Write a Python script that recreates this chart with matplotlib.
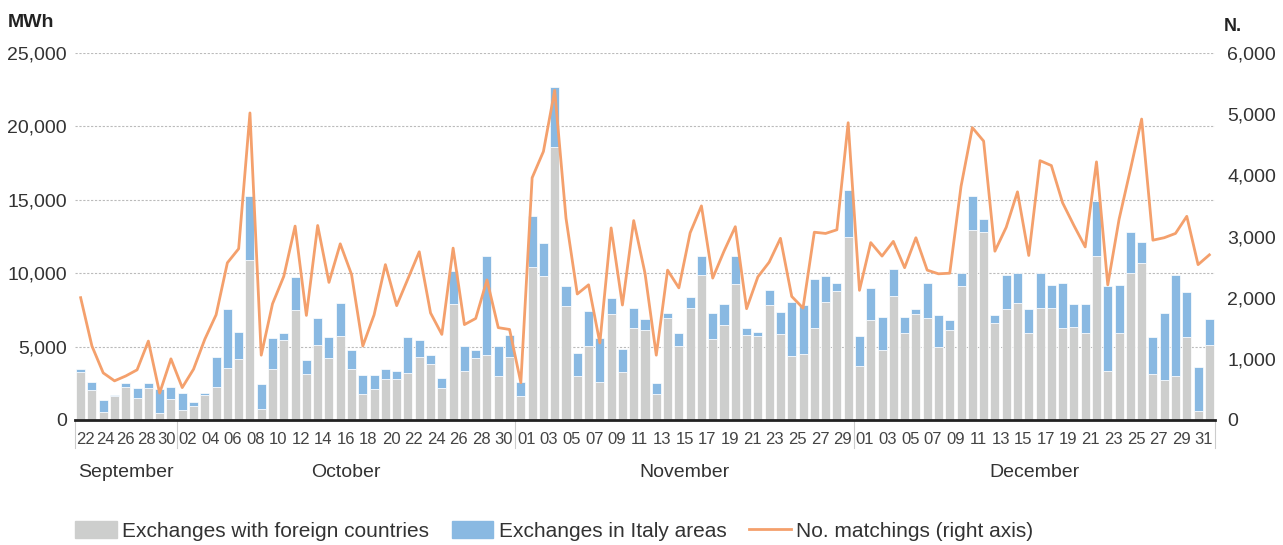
import matplotlib
matplotlib.use("Agg")
import matplotlib.pyplot as plt
import numpy as np
from matplotlib.ticker import FuncFormatter
from matplotlib.patches import Patch
from matplotlib.lines import Line2D

plt.rcParams['font.family'] = ['Liberation Sans', 'DejaVu Sans']

# daily volumes, 22 Sep - 31 Dec (MWh)
foreign = [3270, 2020, 540, 1610, 2250, 1470, 2160, 450, 1410,
           660, 950, 1680, 2250, 3520, 4130, 10890, 730, 3490, 5420,
           7460, 3110, 5080, 4200, 5720, 3450, 1750, 2090, 2770, 2770,
           3180, 4290, 3790, 2180, 7870, 3330, 4200, 4400, 2990, 4310,
           1630, 10410, 9840, 18580, 7760, 2990, 5040, 2590, 7240, 3270,
           6240, 6100, 1790, 6960, 5040, 7600, 9870, 5490, 6440, 9280,
           5760, 5690, 7830, 5830, 4360, 4470, 6240, 8030, 8820, 12470,
           3670, 6800, 4740, 8440, 5940, 7190, 6920, 4970, 6100, 9120,
           12970, 12810, 6620, 7580, 7980, 5940, 7620, 7620, 6280, 6330,
           5940, 11200, 3330, 5900, 9980, 10710, 3110, 2700, 2990, 5650,
           590, 5080]
italy = [180, 540, 820, 90, 290, 690, 340, 1680, 860,
         1150, 300, 180, 2010, 4010, 1880, 4370, 1740, 2110, 520,
         2290, 970, 1880, 1450, 2260, 1290, 1290, 970, 720, 540,
         2490, 1150, 610, 700, 2270, 1710, 540, 6780, 2050, 1500,
         980, 3470, 2200, 4100, 1360, 1590, 2380, 3010, 1080, 1580,
         1400, 750, 750, 340, 900, 750, 1330, 1770, 1450, 1860,
         520, 300, 1040, 1540, 3670, 3330, 3380, 1810, 500, 3230,
         2050, 2180, 2250, 1860, 1070, 340, 2380, 2150, 680, 910,
         2320, 910, 520, 2290, 2050, 1640, 2380, 1590, 3060, 1590,
         1980, 3750, 5790, 3310, 2860, 1420, 2540, 4600, 6900, 3060,
         3040, 1820]
# number of matchings (right axis)
matchings = [2000, 1210, 770, 640, 720, 820, 1290, 440, 1000,
             530, 830, 1320, 1720, 2570, 2800, 5020, 1060, 1900, 2350,
             3170, 1710, 3180, 2250, 2880, 2380, 1210, 1720, 2540, 1870,
             2310, 2750, 1750, 1400, 2810, 1560, 1660, 2290, 1510, 1480,
             610, 3960, 4390, 5390, 3300, 2060, 2210, 1260, 3140, 1880,
             3260, 2400, 1060, 2450, 2160, 3060, 3500, 2320, 2760, 3160,
             1820, 2340, 2580, 2970, 2020, 1830, 3070, 3050, 3110, 4860,
             2120, 2900, 2680, 2920, 2490, 2980, 2450, 2390, 2400, 3820,
             4780, 4560, 2760, 3150, 3730, 2690, 4240, 4160, 3550, 3180,
             2830, 4220, 2210, 3280, 4090, 4920, 2940, 2980, 3050, 3330,
             2540, 2700]

months = ['September', 'October', 'November', 'December']
month_bars = [9, 30, 30, 32]
day_labels = [
    ['22', '24', '26', '28', '30'],
    ['02', '04', '06', '08', '10', '12', '14', '16', '18', '20', '22', '24', '26', '28', '30'],
    ['01', '03', '05', '07', '09', '11', '13', '15', '17', '19', '21', '23', '25', '27', '29'],
    ['01', '03', '05', '07', '09', '11', '13', '15', '17', '19', '21', '23', '25', '27', '29', '31'],
]

GREY = '#cdcecd'
BLUE = '#89b9e2'
ORANGE = '#f4a06c'
TXT = '#333333'

x = np.arange(len(foreign))

fig = plt.figure(figsize=(12.83, 5.45), dpi=100)
ax = fig.add_axes([75/1283, 1-420/545, 1140/1283, 367/545])
ax2 = ax.twinx()

ax.bar(x, foreign, width=0.8, color=GREY, edgecolor='white', linewidth=0.5, zorder=2)
ax.bar(x, italy, bottom=foreign, width=0.8, color=BLUE, edgecolor='white', linewidth=0.5, zorder=2)
ax2.plot(x, matchings, color=ORANGE, lw=2, zorder=3)

ax.set_xlim(-0.5, len(foreign) - 0.5)
ax.set_ylim(0, 25000)
ax2.set_ylim(0, 6000)
ax.set_yticks(np.arange(0, 25001, 5000))
ax2.set_yticks(np.arange(0, 6001, 1000))
fmt = FuncFormatter(lambda v, p: '{:,.0f}'.format(v))
ax.yaxis.set_major_formatter(fmt)
ax2.yaxis.set_major_formatter(fmt)
ax.tick_params(axis='y', length=0, pad=6, labelsize=14, labelcolor=TXT)
ax2.tick_params(axis='y', length=0, pad=9, labelsize=14, labelcolor=TXT)
ax.set_xticks([])

for v in range(5000, 25001, 5000):
    ax.axhline(v, color='#bbbbbb', lw=0.8, ls=(0, (2, 1.5)), zorder=1)

for a in (ax, ax2):
    for s in ('top', 'left', 'right', 'bottom'):
        a.spines[s].set_visible(False)
ax.axhline(0, color='#222222', lw=2, zorder=4, clip_on=False)

# month groups: separators, day labels and month names
tr = ax.get_xaxis_transform()
bounds = np.concatenate([[-0.5], -0.5 + np.cumsum(month_bars)])
for b in bounds:
    ax.plot([b, b], [0, -0.076], transform=tr, color='#cccccc', lw=0.8, clip_on=False)
for i, name in enumerate(months):
    lo, hi = bounds[i], bounds[i + 1]
    labs = day_labels[i]
    step = (hi - lo) / len(labs)
    for k, lab in enumerate(labs):
        ax.text(lo + (k + 0.5) * step, -0.052, lab, transform=tr, ha='center', va='center',
                fontsize=12, color='#444444')
    ax.text((lo + hi) / 2, -0.142, name, transform=tr, ha='center', va='center',
            fontsize=14, color=TXT)

fig.text(8/1283, 1-27/545, 'MWh', fontsize=14, fontweight='bold', color='#222222', va='baseline')
fig.text(1224/1283, 1-31/545, 'N.', fontsize=13, fontweight='bold', color='#222222', va='baseline')

handles = [Patch(color=GREY), Patch(color=BLUE), Line2D([], [], color=ORANGE, lw=2)]
labels = ['Exchanges with foreign countries', 'Exchanges in Italy areas', 'No. matchings (right axis)']
fig.legend(handles, labels, loc='center left', bbox_to_anchor=(75/1283, 1-531/545), ncol=3,
           frameon=False, fontsize=15, handlelength=2.0, handleheight=0.85, handletextpad=0.25,
           columnspacing=1.1, borderaxespad=0, borderpad=0, labelcolor=TXT)

fig.savefig('out.png', dpi=100)
